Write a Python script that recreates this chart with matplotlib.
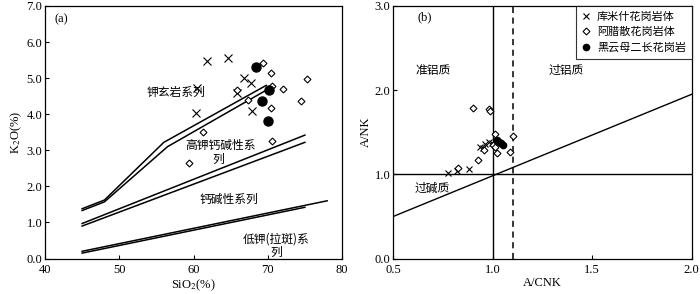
import matplotlib.pyplot as plt
from matplotlib.lines import Line2D

plt.rcParams['font.family'] = ['Liberation Serif', 'Noto Sans CJK SC']
plt.rcParams['mathtext.fontset'] = 'stix'
cjk = ['Noto Sans CJK SC', 'Liberation Serif']

# ---- (a) SiO2 - K2O ----
# series boundary lines (double lines)
sho_hk_1_x = [45, 48, 56, 69.8]
sho_hk_1_y = [1.38, 1.62, 3.22, 4.80]
sho_hk_2_x = [45, 48, 56.5, 70]
sho_hk_2_y = [1.33, 1.57, 3.10, 4.69]
hk_ca_1_x = [45, 75]
hk_ca_1_y = [0.97, 3.42]
hk_ca_2_x = [45, 75]
hk_ca_2_y = [0.90, 3.22]
ca_lk_1_x = [45, 75]
ca_lk_1_y = [0.15, 1.42]
ca_lk_2_x = [45, 78]
ca_lk_2_y = [0.20, 1.60]

# 库米什花岗岩体
kum_sio2 = [61.8, 64.7, 66.75, 67.7, 65.9, 60.5, 60.3, 67.9]
kum_k2o = [5.48, 5.55, 4.99, 4.87, 4.58, 4.72, 4.02, 4.10]
# 阿腊散花岗岩体
als_sio2 = [69.3, 70.4, 70.6, 72.1, 75.3, 74.45, 70.4, 70.6, 65.9, 67.4, 61.3, 59.4]
als_k2o = [5.42, 5.13, 4.78, 4.69, 4.97, 4.36, 4.18, 3.26, 4.67, 4.40, 3.50, 2.65]
# 黑云母二长花岗岩
bio_sio2 = [68.4, 70.1, 69.2, 70.0]
bio_k2o = [5.31, 4.67, 4.37, 3.81]

# ---- (b) A/CNK - A/NK ----
kum_acnk = [0.936, 0.961, 0.983, 0.995, 0.953, 0.774, 0.822, 0.880]
kum_anK = [1.33, 1.36, 1.39, 1.37, 1.31, 1.02, 1.04, 1.065]
als_acnk = [0.903, 0.982, 0.985, 1.012, 1.104, 1.003, 1.020, 1.087, 0.925, 0.827, 0.958, 1.012]
als_anK = [1.79, 1.78, 1.75, 1.48, 1.45, 1.35, 1.25, 1.27, 1.175, 1.08, 1.29, 1.325]
bio_acnk = [1.02, 1.03, 1.04, 1.05]
bio_anK = [1.41, 1.39, 1.37, 1.35]

fig = plt.figure(figsize=(7, 2.94), dpi=100)
ax1 = fig.add_axes([0.0643, 0.1207, 0.4243, 0.859])
ax2 = fig.add_axes([0.5619, 0.1207, 0.426, 0.859])

for xs, ys in [(sho_hk_1_x, sho_hk_1_y), (sho_hk_2_x, sho_hk_2_y),
               (hk_ca_1_x, hk_ca_1_y), (hk_ca_2_x, hk_ca_2_y),
               (ca_lk_1_x, ca_lk_1_y), (ca_lk_2_x, ca_lk_2_y)]:
    ax1.plot(xs, ys, 'k-', lw=1.1)

ax1.plot(kum_sio2, kum_k2o, 'kx', ms=5.5, mew=0.8)
ax1.plot(als_sio2, als_k2o, 'D', ms=3.5, mfc='white', mec='k', mew=0.8)
ax1.plot(bio_sio2, bio_k2o, 'ko', ms=6.5)

ax1.set_xlim(40, 80)
ax1.set_ylim(0, 7)
ax1.set_xticks([40, 50, 60, 70, 80])
ax1.set_yticks([0, 1, 2, 3, 4, 5, 6, 7])
ax1.set_yticklabels(['%.1f' % v for v in range(8)])
ax1.set_xlabel('SiO$_2$(%)', fontsize=9, labelpad=1)
ax1.set_ylabel('K$_2$O(%)', fontsize=9, labelpad=2)
ax1.text(41.3, 6.55, '(a)', fontsize=9)
ax1.text(57.7, 4.6, '钾玄岩系列', family=cjk, fontsize=8.5, ha='center', va='center')
ax1.text(63.6, 3.13, '高钾钙碱性系', family=cjk, fontsize=8.5, ha='center', va='center')
ax1.text(63.3, 2.76, '列', family=cjk, fontsize=8.5, ha='center', va='center')
ax1.text(64.8, 1.64, '钙碱性系列', family=cjk, fontsize=8.5, ha='center', va='center')
ax1.text(71.1, 0.55, '低钾(拉斑)系', family=cjk, fontsize=8.5, ha='center', va='center')
ax1.text(71.1, 0.17, '列', family=cjk, fontsize=8.5, ha='center', va='center')

ax2.plot([0.5, 2.0], [0.5, 1.95], 'k-', lw=1)
ax2.axhline(1.0, color='k', lw=1)
ax2.axvline(1.0, color='k', lw=1)
ax2.axvline(1.1, color='k', lw=1.1, ls=(0, (4, 3)))

ax2.plot(kum_acnk, kum_anK, 'kx', ms=5, mew=0.8)
ax2.plot(als_acnk, als_anK, 'D', ms=3.5, mfc='white', mec='k', mew=0.8)
ax2.plot(bio_acnk, bio_anK, 'ko', ms=4.5)

ax2.set_xlim(0.5, 2.0)
ax2.set_ylim(0, 3.0)
ax2.set_xticks([0.5, 1.0, 1.5, 2.0])
ax2.set_yticks([0, 1, 2, 3])
ax2.set_xticklabels(['0.5', '1.0', '1.5', '2.0'])
ax2.set_yticklabels(['0.0', '1.0', '2.0', '3.0'])
ax2.set_xlabel('A/CNK', fontsize=9, labelpad=1)
ax2.set_ylabel('A/NK', fontsize=9, labelpad=2)
ax2.text(0.62, 2.83, '(b)', fontsize=9)
ax2.text(0.70, 2.23, '准铝质', family=cjk, fontsize=8.5, ha='center', va='center')
ax2.text(1.37, 2.23, '过铝质', family=cjk, fontsize=8.5, ha='center', va='center')
ax2.text(0.695, 0.83, '过碱质', family=cjk, fontsize=8.5, ha='center', va='center')

handles = [Line2D([], [], ls='', marker='x', color='k', ms=4.5, mew=0.8),
           Line2D([], [], ls='', marker='D', mfc='white', mec='k', ms=3.5, mew=0.8),
           Line2D([], [], ls='', marker='o', color='k', ms=4.5)]
leg = ax2.legend(handles, ['库米什花岗岩体', '阿腊散花岗岩体', '黑云母二长花岗岩'],
                 loc='upper right', prop={'family': cjk, 'size': 8},
                 frameon=True, fancybox=False, borderaxespad=0, handlelength=0.8,
                 handletextpad=0.6, labelspacing=0.5, borderpad=0.5)
leg.get_frame().set_edgecolor('k')
leg.get_frame().set_linewidth(0.8)

for ax in (ax1, ax2):
    ax.tick_params(direction='in', length=3, width=0.8, labelsize=9, pad=2)
    ax.tick_params(axis='x', pad=4)
    for s in ax.spines.values():
        s.set_linewidth(0.9)

fig.savefig('out.png', dpi=100)
